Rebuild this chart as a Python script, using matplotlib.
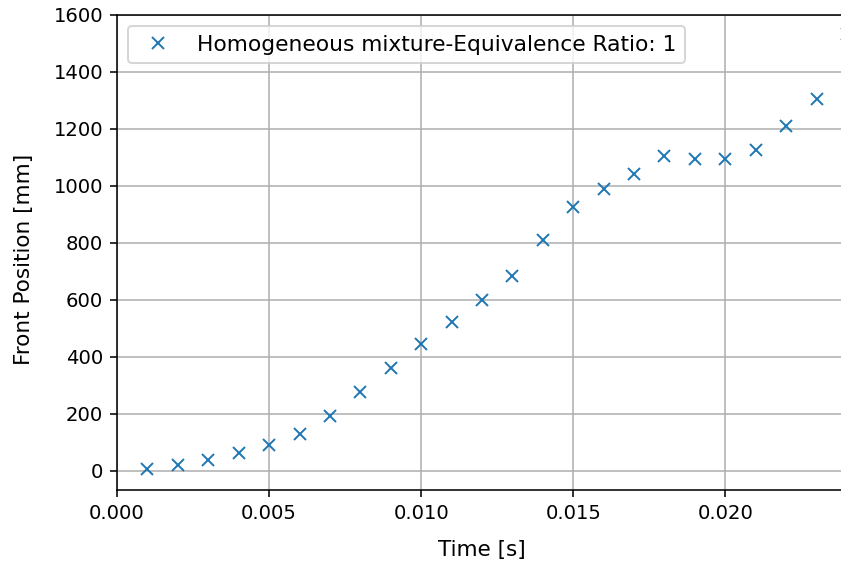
import matplotlib
matplotlib.use("Agg")
import matplotlib.pyplot as plt

time_s = [0.001, 0.002, 0.003, 0.004, 0.005, 0.006, 0.007, 0.008, 0.009, 0.010,
          0.011, 0.012, 0.013, 0.014, 0.015, 0.016, 0.017, 0.018, 0.019, 0.020,
          0.021, 0.022, 0.023, 0.024]
front_mm = [6, 22, 39, 63, 92, 130, 193, 276, 361, 446,
            522, 600, 683, 811, 927, 990, 1043, 1104, 1096, 1096,
            1126, 1210, 1304, 1533]
series_label = "Homogeneous mixture-Equivalence Ratio: 1"

W, H, DPI = 841, 566, 141
fig = plt.figure(figsize=(W / DPI, H / DPI), dpi=DPI)
ax = fig.add_axes([117 / W, (H - 490) / H, 730 / W, 475 / H])
ax.plot(time_s, front_mm, "x", color="#1f77b4", markersize=6, label=series_label)
ax.set_xlim(0, 0.024)
ax.set_ylim(-67, 1600)
ax.set_xticks([0.000, 0.005, 0.010, 0.015, 0.020])
ax.set_yticks([0, 200, 400, 600, 800, 1000, 1200, 1400, 1600])
ax.grid(True)
ax.set_xlabel("Time [s]", fontsize=11, labelpad=9)
ax.set_ylabel("Front Position [mm]", fontsize=11)
ax.yaxis.set_label_coords(-0.114, 0.486)
ax.legend(loc="upper left", fontsize=11.1)
fig.savefig("out.png", dpi=DPI)
